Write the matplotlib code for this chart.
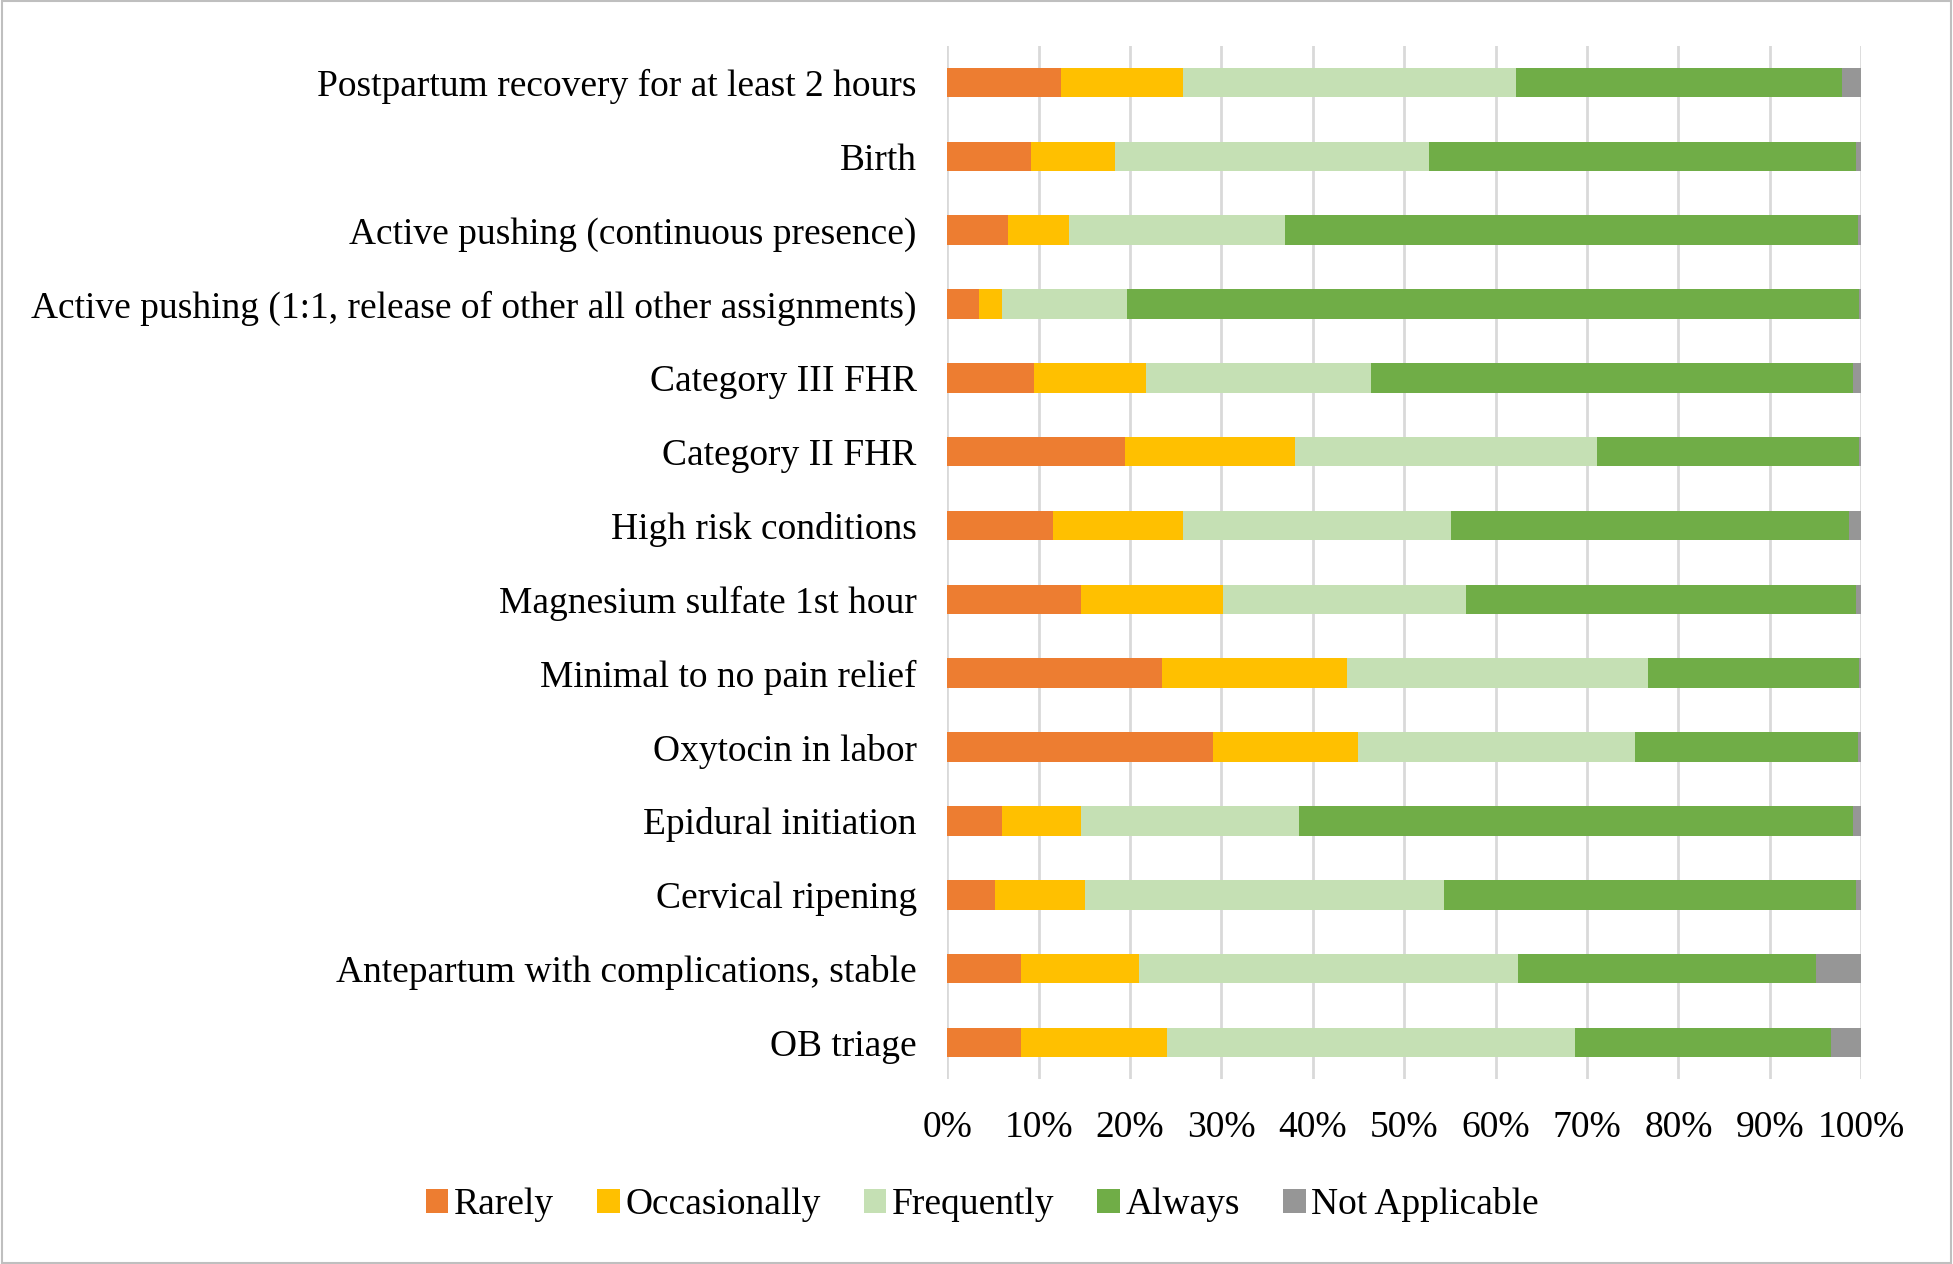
import numpy as np
import matplotlib.pyplot as plt
from matplotlib.patches import Rectangle

plt.rcParams['font.family'] = ['Liberation Serif', 'DejaVu Serif']

# categories, top to bottom
categories = [
    'Postpartum recovery for at least 2 hours',
    'Birth',
    'Active pushing (continuous presence)',
    'Active pushing (1:1, release of other all other assignments)',
    'Category III FHR',
    'Category II FHR',
    'High risk conditions',
    'Magnesium sulfate 1st hour',
    'Minimal to no pain relief',
    'Oxytocin in labor',
    'Epidural initiation',
    'Cervical ripening',
    'Antepartum with complications, stable',
    'OB triage',
]

rarely = [12.5, 9.2, 6.6, 3.5, 9.5, 19.4, 11.6, 14.6, 23.5, 29.1, 6.0, 5.2, 8.1, 8.1]
occasionally = [13.3, 9.2, 6.7, 2.5, 12.2, 18.6, 14.2, 15.6, 20.2, 15.8, 8.6, 9.9, 12.9, 15.9]
frequently = [36.4, 34.3, 23.7, 13.7, 24.7, 33.1, 29.3, 26.6, 33.0, 30.4, 23.9, 39.2, 41.5, 44.7]
always = [35.7, 46.7, 62.7, 80.1, 52.7, 28.7, 43.6, 42.6, 23.1, 24.4, 60.6, 45.1, 32.5, 28.0]
not_applicable = [2.1, 0.6, 0.3, 0.2, 0.9, 0.2, 1.3, 0.6, 0.2, 0.3, 0.9, 0.6, 5.0, 3.3]

series = [
    ('Rarely', rarely, '#ED7D31'),
    ('Occasionally', occasionally, '#FFC000'),
    ('Frequently', frequently, '#C5E0B4'),
    ('Always', always, '#70AD47'),
    ('Not Applicable', not_applicable, '#969696'),
]

fig = plt.figure(figsize=(19.53, 12.64), dpi=100)
ax = fig.add_axes([0.485, 0.146, 0.468, 0.818])

y = np.arange(len(categories))
left = np.zeros(len(categories))
for name, vals, color in series:
    vals = np.array(vals)
    ax.barh(y, vals, left=left, height=0.4, color=color, label=name, zorder=3)
    left += vals

ax.set_ylim(len(categories) - 0.5, -0.5)
ax.set_xlim(0, 100)
ax.set_yticks(y)
ax.set_yticklabels(categories, fontsize=27)
ax.set_xticks(np.arange(0, 101, 10))
ax.set_xticklabels([f'{v}%' for v in range(0, 101, 10)], fontsize=27)
ax.tick_params(axis='both', length=0)
ax.tick_params(axis='x', pad=22)
ax.tick_params(axis='y', pad=22)
ax.grid(axis='x', color='#d9d9d9', linewidth=2, zorder=0)
for s in ax.spines.values():
    s.set_visible(False)

fig.legend(loc='center', bbox_to_anchor=(0.503, 0.047), ncol=5,
           frameon=False, fontsize=27, handlelength=0.6, handleheight=0.6,
           handletextpad=0.15, columnspacing=1.15)

fig.patches.append(Rectangle((0.001, 0.001), 0.998, 0.998, transform=fig.transFigure,
                             fill=False, edgecolor='#bfbfbf', linewidth=1.5))

fig.savefig('out.png', dpi=100)
